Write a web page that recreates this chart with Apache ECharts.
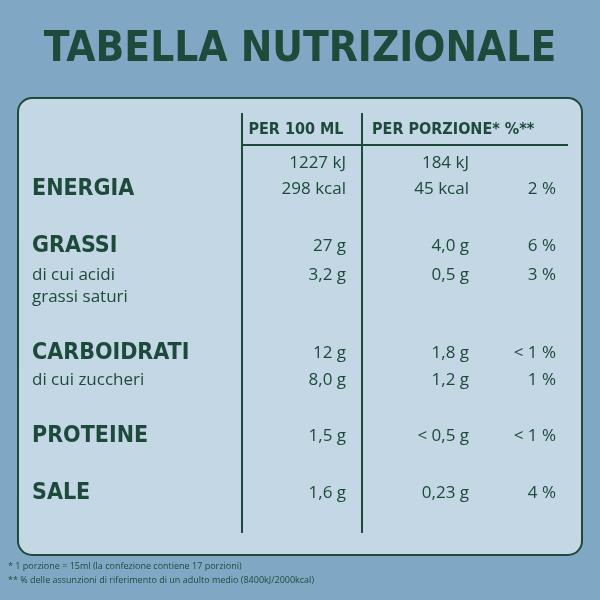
<!DOCTYPE html><html><head><meta charset="utf-8">
<script src="https://cdn.jsdelivr.net/npm/echarts@6/dist/echarts.min.js"></script>
<style>html,body{margin:0;padding:0;background:#80a8c5}#c{width:600px;height:600px}</style></head><body><div id="c"></div>
<script>
const title = "TABELLA NUTRIZIONALE";
const headers = ["PER 100 ML", "PER PORZIONE* %**"];
// each line: [label, isBold, per100, porzione, percent]
const labels   = ["", "ENERGIA", "GRASSI", "di cui acidi", "grassi saturi", "CARBOIDRATI", "di cui zuccheri", "PROTEINE", "SALE"];
const boldRow  = [false, true, true, false, false, true, false, true, true];
const per100   = ["1227 kJ", "298 kcal", "27 g", "3,2 g", "", "12 g", "8,0 g", "1,5 g", "1,6 g"];
const porzione = ["184 kJ", "45 kcal", "4,0 g", "0,5 g", "", "1,8 g", "1,2 g", "< 0,5 g", "0,23 g"];
const percent  = ["", "2 %", "6 %", "3 %", "", "< 1 %", "1 %", "< 1 %", "4 %"];
const footnotes = ["* 1 porzione = 15ml (la confezione contiene 17 porzioni)", "** % delle assunzioni di riferimento di un adulto medio (8400kJ/2000kcal)"];

const rowY = [163, 189, 246, 275, 297, 353, 380, 436, 493];
const G = '#1d4a3b';
const valFont = {fontFamily:'Open Sans', fontSize:17, color:G, opacity:1};
function col(x, arr, align, styleFn){
  return {type:'scatter', symbolSize:0, silent:true, itemStyle:{opacity:1},
    data: arr.map((t,i)=>({value:[x,rowY[i]], itemStyle:{opacity:1}, label:Object.assign({show:t!=='', formatter:t, position:'inside', align:align, verticalAlign:'middle'}, styleFn?styleFn(i):valFont)}))};
}
const chart = echarts.init(document.getElementById('c'));
chart.setOption({
  animation:false,
  grid:{left:0,right:0,top:0,bottom:0},
  xAxis:{type:'value',min:0,max:600,show:false},
  yAxis:{type:'value',min:0,max:600,inverse:true,show:false},
  graphic:[
    {type:'rect',shape:{x:18,y:98,width:564,height:457,r:14},style:{fill:'#c3d7e4',stroke:G,lineWidth:2},z:-10},
    {type:'line',shape:{x1:242,y1:113,x2:242,y2:533},style:{stroke:G,lineWidth:2},z:-5},
    {type:'line',shape:{x1:362,y1:113,x2:362,y2:533},style:{stroke:G,lineWidth:2},z:-5},
    {type:'line',shape:{x1:242,y1:145,x2:568,y2:145},style:{stroke:G,lineWidth:2},z:-5},
    {type:'text',x:300,y:50,style:{text:title,fill:G,font:'900 42px "DejaVu Sans Condensed", "Lato"',align:'center',verticalAlign:'middle'}},
    {type:'text',x:296,y:130,style:{text:headers[0],fill:G,font:'bold 16px "DejaVu Sans Condensed"',align:'center',verticalAlign:'middle'}},
    {type:'text',x:372,y:130,style:{text:headers[1],fill:G,font:'bold 16px "DejaVu Sans Condensed"',align:'left',verticalAlign:'middle'}},
    {type:'text',x:8,y:566,style:{text:footnotes[0],fill:G,font:'9px "Open Sans"',verticalAlign:'middle'}},
    {type:'text',x:8,y:580,style:{text:footnotes[1],fill:G,font:'9px "Open Sans"',verticalAlign:'middle'}}
  ],
  series:[
    col(32, labels, 'left', i=> boldRow[i]
      ? {fontFamily:'DejaVu Sans Condensed', fontWeight:'bold', fontSize:23, color:G, opacity:1}
      : valFont),
    col(346, per100, 'right'),
    col(469, porzione, 'right'),
    col(556, percent, 'right')
  ]
});
</script></body></html>
